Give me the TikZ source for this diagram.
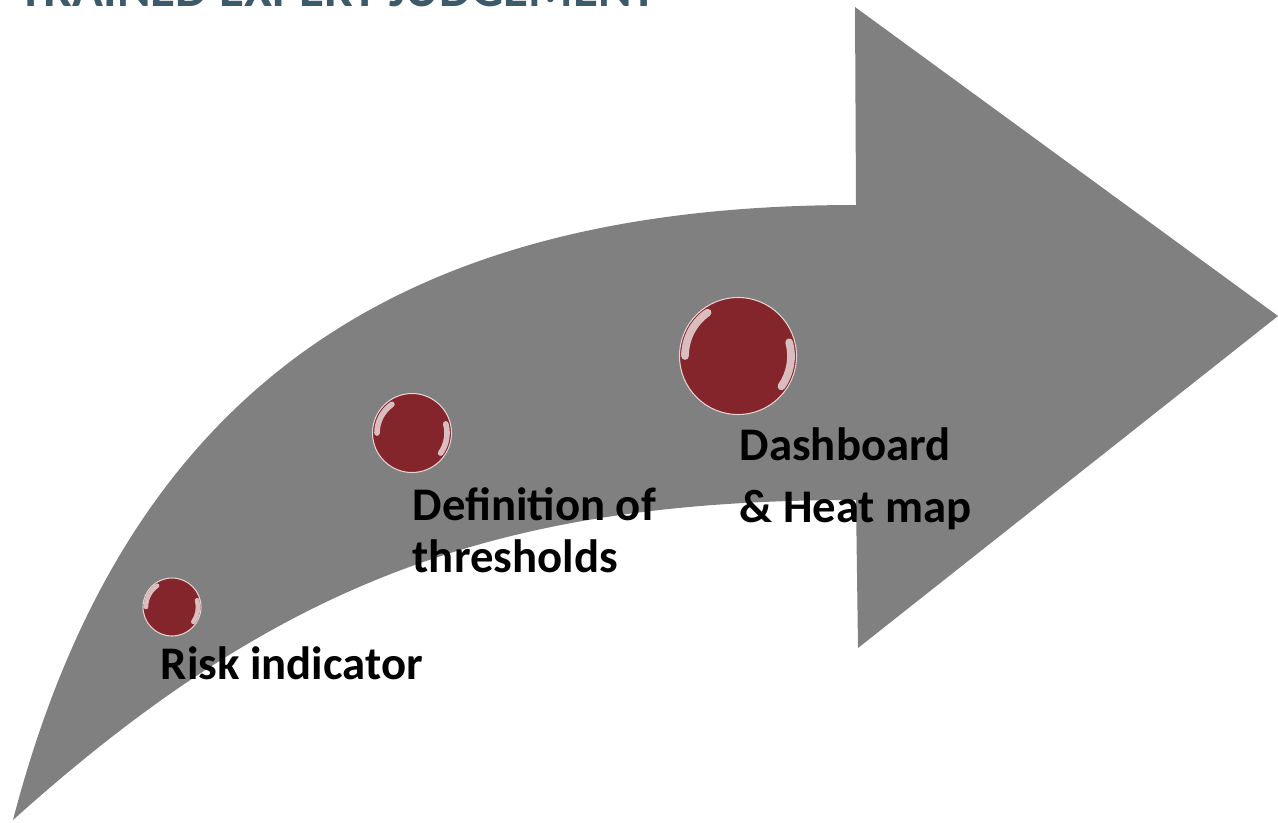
\documentclass[tikz,border=0pt]{standalone}
\usepackage{fontspec}
\setmainfont{Carlito}
\definecolor{arrowgrey}{RGB}{128,128,128}
\definecolor{balldark}{RGB}{131,37,42}
\definecolor{titleblue}{RGB}{60,90,106}
\tikzset{
  ball/.style={circle, fill=balldark, draw=white!80!balldark, line width=0.3pt, inner sep=0pt},
  steplabel/.style={anchor=base west, inner sep=0pt, font=\fontsize{13.3}{15}\selectfont\bfseries},
  shine/.style={white, opacity=0.7, line cap=round}
}
\begin{document}
\begin{tikzpicture}[x=0.1mm, y=-0.1mm]
\useasboundingbox (0,0) rectangle (1278,822);
\clip (0,0) rectangle (1278,822);
% title, cut at the top
\node[anchor=base west, inner sep=0pt, text=titleblue, font=\fontsize{14.5}{17}\selectfont\bfseries] (title) at (18,7) {TRAINED EXPERT JUDGEMENT};
% the curved arrow
\fill[arrowgrey] (13,820) .. controls (130,370) and (420,205) .. (856,205)
  -- (855,7) -- (1278,316) -- (858,648) -- (856,500)
  .. controls (500,500) and (280,580) .. cycle;
% balls
\node[ball, minimum size=5.8mm] (ri) at (172,607) {};
\node[ball, minimum size=7.9mm] (dt) at (412,433) {};
\node[ball, minimum size=11.7mm] (dh) at (738,356) {};
\foreach \n/\r/\w in {ri/26/1.3, dt/35/1.6, dh/53/2.2} {
  \draw[shine, line width=\w pt] ([shift={(180:\r)}]\n.center) arc[start angle=180, end angle=235, radius=\r];
  \draw[shine, line width=\w pt] ([shift={(-15:\r)}]\n.center) arc[start angle=-15, end angle=35, radius=\r];
}
% labels
\node[steplabel] (rilabel) at (160,679) {Risk indicator};
\node[steplabel] (dttop) at (412,520) {Definition of};
\node[steplabel] (dtbottom) at (412,572) {thresholds};
\node[steplabel] (dhtop) at (739,460) {Dashboard};
\node[steplabel] (dhbottom) at (739,522) {\& Heat map};
\end{tikzpicture}
\end{document}
